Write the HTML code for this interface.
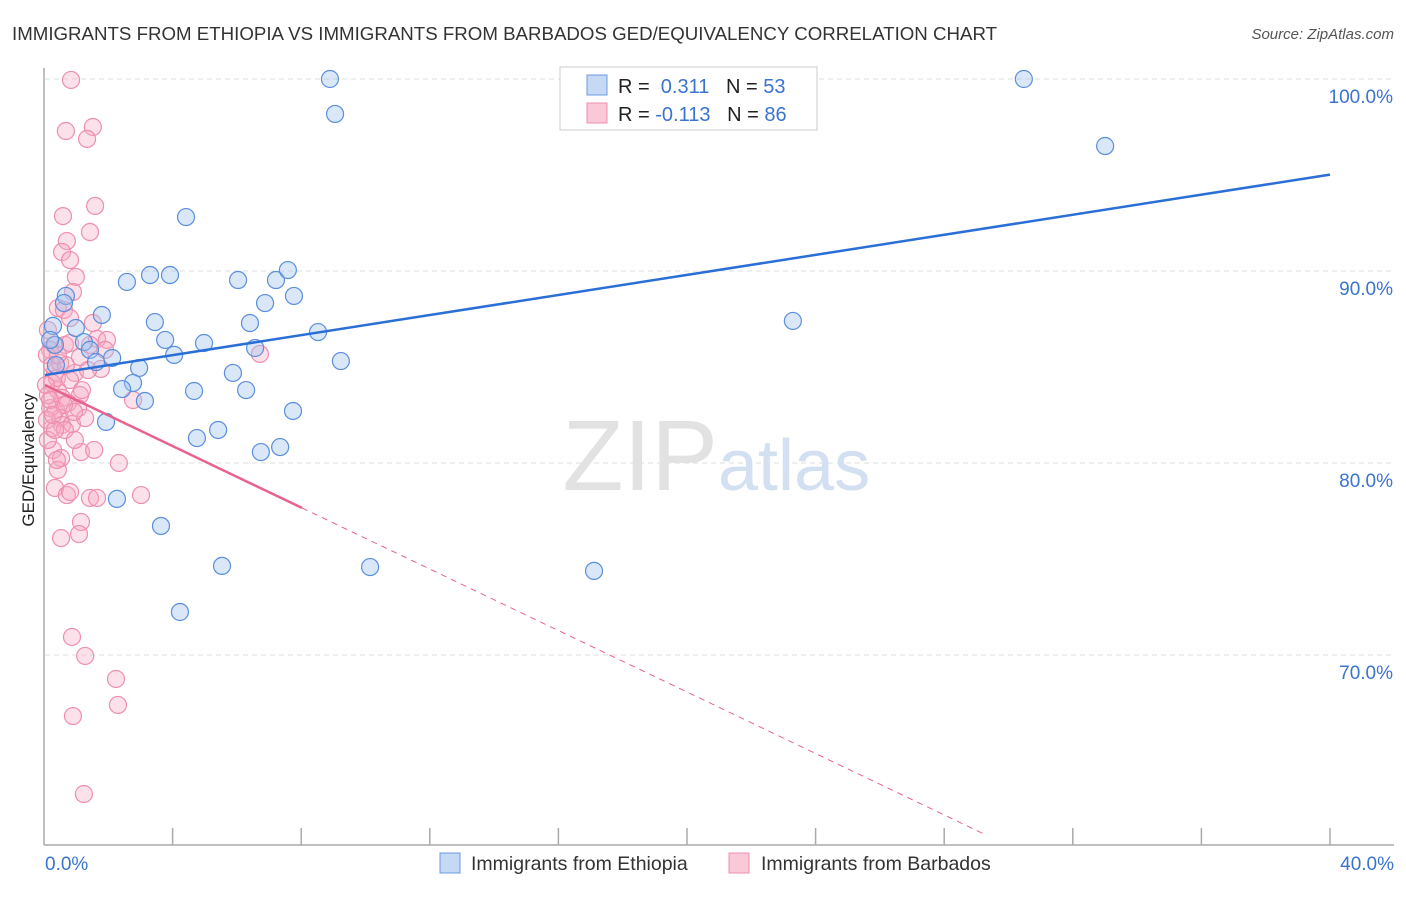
<!DOCTYPE html>
<html><head><meta charset="utf-8"><style>
body{margin:0;background:#fff;font-family:"Liberation Sans",sans-serif;}
svg text{font-family:"Liberation Sans",sans-serif;}
</style></head><body>
<svg id="chart" width="1406" height="892">
<text x="12" y="40" font-size="18.7" fill="#333">IMMIGRANTS FROM ETHIOPIA VS IMMIGRANTS FROM BARBADOS GED/EQUIVALENCY CORRELATION CHART</text>
<text x="1394" y="39" font-size="15" fill="#555" font-style="italic" text-anchor="end">Source: ZipAtlas.com</text>
<g id="grid"></g>
<text x="718" y="490" font-size="100" fill="#e2e2e2" font-family="Liberation Serif" text-anchor="end">ZIP</text>
<text x="718" y="490" font-size="72" fill="#d3e0f2">atlas</text>
<g id="pts"></g>
<g id="lines"></g>
<text x="34" y="460" font-size="17" fill="#222" transform="rotate(-90 34 460)" text-anchor="middle">GED/Equivalency</text>
<text x="45" y="870" font-size="19" fill="#3a74d0">0.0%</text>
<text x="1394" y="870" font-size="19" fill="#3a74d0" text-anchor="end">40.0%</text>
<g>
<rect x="560" y="67" width="257" height="63" fill="#fff" stroke="#ccc"/>
<rect x="587" y="75" width="20" height="20" fill="#c5d9f5" stroke="#6a9be0"/>
<rect x="587" y="103" width="20" height="20" fill="#fac9d8" stroke="#ee8fae"/>
<text x="618" y="93" font-size="20" fill="#222">R = <tspan fill="#3a74d0">&#160;0.311</tspan>&#160;&#160;&#160;N = <tspan fill="#3a74d0">53</tspan></text>
<text x="618" y="121" font-size="20" fill="#222">R = <tspan fill="#3a74d0">-0.113</tspan>&#160;&#160;&#160;N = <tspan fill="#3a74d0">86</tspan></text>
</g>
<g>
<rect x="440" y="853" width="20" height="20" fill="#c5d9f5" stroke="#6a9be0"/>
<text x="471" y="870" font-size="19.5" fill="#333">Immigrants from Ethiopia</text>
<rect x="729" y="853" width="20" height="20" fill="#fac9d8" stroke="#ee8fae"/>
<text x="761" y="870" font-size="19.5" fill="#333">Immigrants from Barbados</text>
</g>
</svg>
<script>
const yTicks=[70,80,90,100];
const blueX=[330,1024,335,1105,186,127,150,170,238,276,288,265,294,66,64,102,155,250,318,793,76,53,165,204,84,90,112,174,255,341,96,139,233,133,122,194,246,145,293,106,218,197,261,280,117,161,222,370,594,180,56,55,50].map(p=>+((p-45)/32.125).toFixed(2));
const blueY=[79,79,114,146,217,282,275,275,280,280,270,303,296,296,303,315,322,323,332,321,328,326,340,343,342,350,358,355,348,361,362,368,373,383,389,391,390,401,411,422,430,438,452,447,499,526,566,567,571,612,365,345,340].map(p=>+(100-(p-79)/19.2).toFixed(2));
const pinkX=[71,66,93,87,63,95,90,67,62,70,76,73,58,64,70,93,97,54,50,65,80,101,75,55,52,58,62,80,68,78,56,60,62,72,85,52,50,48,133,260,90,107,53,61,58,81,94,119,55,67,70,90,97,141,81,79,61,72,85,116,118,73,84,48,47,52,57,47,65,75,57,105,46,60,48,70,88,64,55,70,82,50,66,53,74,58].map(p=>+((p-45)/32.125).toFixed(2));
const pinkY=[80,131,127,139,216,206,232,241,252,260,277,292,308,310,318,323,339,345,350,345,357,369,373,372,383,390,398,395,403,408,410,418,425,424,418,428,408,395,400,354,345,340,450,458,470,452,450,463,488,495,492,498,498,495,522,534,538,637,656,679,705,716,794,440,355,365,378,420,430,440,460,350,385,363,330,380,370,405,430,343,390,400,365,415,412,355].map(p=>+(100-(p-79)/19.2).toFixed(2));
const blueFit=[84.58,0.261];
const pinkFit=[84.06,-0.8];
const X=v=>45+v*32.125, Y=v=>79+(100-v)*19.2;
const NS="http://www.w3.org/2000/svg";
function mk(t,a,p){const e=document.createElementNS(NS,t);for(const k in a)e.setAttribute(k,a[k]);document.getElementById(p).appendChild(e);return e;}
yTicks.forEach(t=>{
 const l=mk('line',{x1:45,x2:1394,y1:Y(t),y2:Y(t),stroke:'#ddd','stroke-dasharray':'5,4'},'grid');
 
 
 const tx=mk('text',{x:1393,y:Y(t)+24,'font-size':19,fill:'#3a74d0','text-anchor':'end'},'grid');tx.textContent=t.toFixed(1)+'%';
 
 
});
mk('line',{x1:44,x2:44,y1:68,y2:845,stroke:'#aaa','stroke-width':1.5},'grid');
mk('line',{x1:44,x2:1394,y1:845,y2:845,stroke:'#aaa','stroke-width':1.5},'grid');
for(let i=1;i<=10;i++){mk('line',{x1:44+i*128.6,x2:44+i*128.6,y1:828,y2:845,stroke:'#aaa','stroke-width':1.5},'grid');}
pinkX.forEach((v,i)=>{const c=mk('circle',{cx:X(v),cy:Y(pinkY[i]),r:8.5,fill:'rgba(246,170,195,0.35)',stroke:'#ee8fae','stroke-width':1.2},'pts');
 
 });
blueX.forEach((v,i)=>{const c=mk('circle',{cx:X(v),cy:Y(blueY[i]),r:8.5,fill:'rgba(160,195,240,0.4)',stroke:'#5b8fdc','stroke-width':1.2},'pts');
 
 });
let l=mk('line',{x1:X(0),y1:Y(blueFit[0]),x2:X(40),y2:Y(blueFit[0]+40*blueFit[1]),stroke:'#2a6fd6','stroke-width':2.5},'lines');


l=mk('line',{x1:X(0),y1:Y(pinkFit[0]),x2:X(8),y2:Y(pinkFit[0]+8*pinkFit[1]),stroke:'#e8628e','stroke-width':2.5},'lines');


l=mk('line',{x1:X(8),y1:Y(pinkFit[0]+8*pinkFit[1]),x2:X(29.3),y2:Y(pinkFit[0]+29.3*pinkFit[1]),stroke:'#e8628e','stroke-width':1,'stroke-dasharray':'6,5'},'lines');


</script>
</body></html>
